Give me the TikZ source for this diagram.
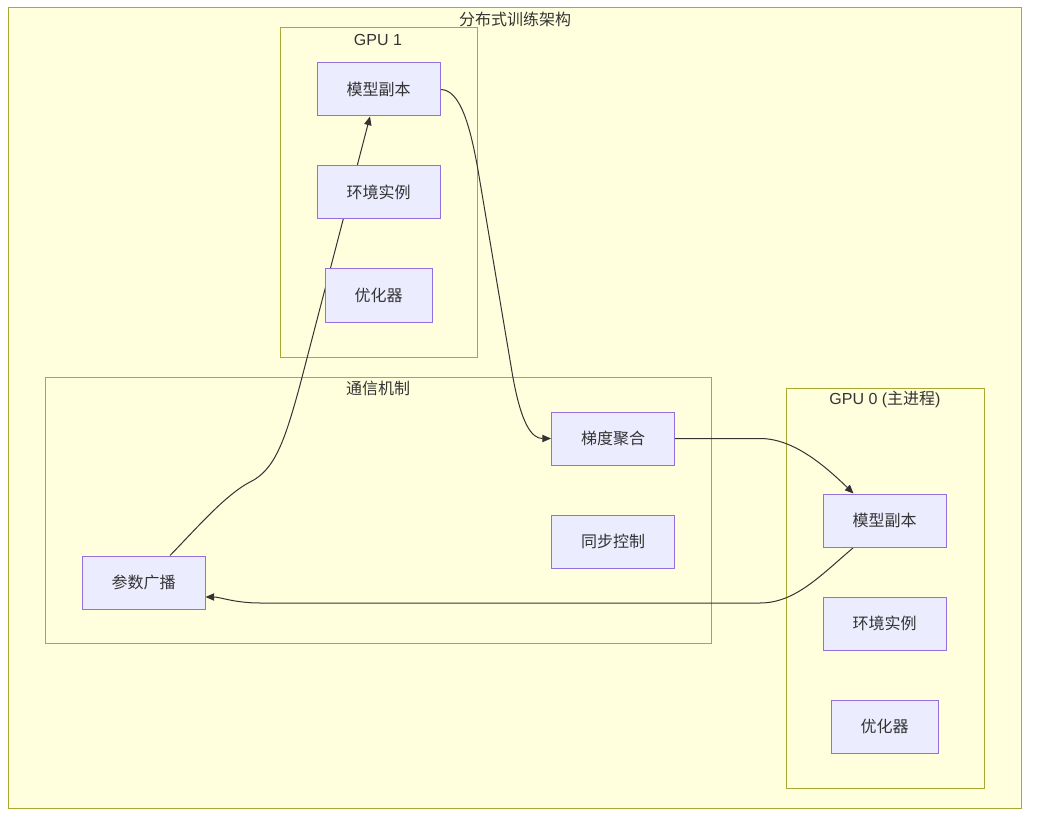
\documentclass[tikz,border=0pt]{standalone}
\usepackage{fontspec}
\setmainfont{Liberation Sans}
\newfontfamily\cjk{Noto Sans CJK SC}
\usetikzlibrary{arrows.meta,calc}
\definecolor{clusterfill}{HTML}{FFFFDE}
\definecolor{clusterline}{HTML}{AAAA33}
\definecolor{boxfill}{HTML}{ECECFF}
\definecolor{boxline}{HTML}{9370DB}
\definecolor{inkgray}{HTML}{333333}
\pgfdeclarelayer{clusters}
\pgfdeclarelayer{links}
\pgfsetlayers{clusters,links,main}
\tikzset{
  cluster/.style={draw=clusterline, fill=clusterfill, line width=0.75pt},
  clustertitle/.style={text=inkgray, font=\fontsize{12}{14}\selectfont, inner sep=0pt},
  box/.style={draw=boxline, fill=boxfill, line width=0.75pt, text=inkgray,
    font=\cjk\fontsize{12}{14}\selectfont, minimum width=92.25pt,
    minimum height=39.75pt, inner sep=0pt},
  smallbox/.style={box, minimum width=80.25pt},
  link/.style={draw=inkgray, line width=0.75pt,
    -{Triangle[length=6.5pt,width=5.5pt]}}
}
\begin{document}
\begin{tikzpicture}[x=0.75pt, y=-0.75pt]
\useasboundingbox (0,0) rectangle (1037,823);

% containers
\begin{pgfonlayer}{clusters}
  \path[cluster] (8,8) rectangle (1021,808);
  \path[cluster] (280,28) rectangle (477,357);
  \path[cluster] (45,377) rectangle (711,643);
  \path[cluster] (786,388) rectangle (984,788);
\end{pgfonlayer}
\node[clustertitle] (ttop) at (515,19) {\cjk 分布式训练架构};
\node[clustertitle] (tgpuone) at (378,40) {GPU 1};
\node[clustertitle] (tcomm) at (378,388) {\cjk 通信机制};
\node[clustertitle] (tgpuzero) at (885,399) {GPU 0 ({\cjk 主进程})};

% GPU 1
\node[box] (g1model) at (378.5,89.5) {模型副本};
\node[box] (g1env) at (378.5,192.5) {环境实例};
\node[smallbox] (g1opt) at (378.5,295.5) {优化器};

% communication
\node[box] (agg) at (613,438.5) {梯度聚合};
\node[box] (sync) at (613,541.5) {同步控制};
\node[box] (bcast) at (143.5,582.5) {参数广播};

% GPU 0
\node[box] (g0model) at (884.5,520.5) {模型副本};
\node[box] (g0env) at (884.5,623.5) {环境实例};
\node[smallbox] (g0opt) at (884.5,726.5) {优化器};

% data flow
\begin{pgfonlayer}{links}
  \draw[link] (g1model.east) .. controls (460,89.5) and (470,125) .. (478,170)
    -- (512,372) .. controls (521,425) and (532,438.5) .. (agg.west);
  \draw[link] (agg.east) -- (760,438.5) .. controls (792,438.5) and (822,463) ..
    ($(g0model.north)+(-31,0)$);
  \draw[link] ($(g0model.south)+(-31,0)$) .. controls (820,576) and (795,603) ..
    (760,603) -- (260,603) .. controls (235,603) and (220,597) ..
    ($(bcast.east)+(0,14.5)$);
  \draw[link] ($(bcast.north)+(26.5,0)$) .. controls (195,530) and (225,495) ..
    (250,482) .. controls (275,470) and (285,440) .. (300,385) --
    ($(g1model.south)+(-8.5,0)$);
\end{pgfonlayer}
\end{tikzpicture}
\end{document}
